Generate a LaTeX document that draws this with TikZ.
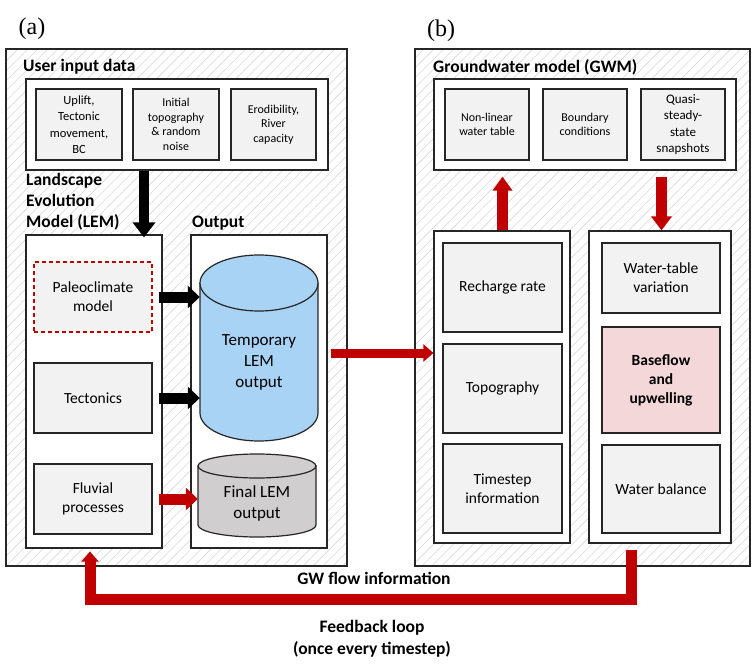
\documentclass[tikz,border=0pt]{standalone}
\usepackage{fontspec}
\setmainfont{Carlito}
\newfontfamily\panelfont{Liberation Serif}
\usetikzlibrary{arrows.meta,patterns.meta}

\definecolor{edge}{HTML}{262626}
\definecolor{boxgray}{HTML}{F2F2F2}
\definecolor{hatch}{HTML}{D9D9D9}
\definecolor{darkred}{HTML}{C00000}
\definecolor{tempblue}{HTML}{A9D3F5}
\definecolor{finalgray}{HTML}{D0CECE}
\definecolor{rosy}{HTML}{F4D7D8}

\newcommand{\fsz}[2]{\fontsize{#1}{#2}\selectfont}

\begin{document}
\begin{tikzpicture}[x=1pt,y=-1pt,
  outer/.style={draw=edge, line width=1.2pt, preaction={fill=white},
    pattern={Lines[angle=45,distance=7pt,line width=0.6pt]}, pattern color=hatch,
    inner sep=0pt},
  panel/.style={draw=edge, fill=white, line width=1.2pt, inner sep=0pt},
  box/.style={draw=edge, fill=boxgray, line width=1.1pt, align=center, inner sep=1pt},
  small/.style={font=\fsz{12}{14.5}},
  mid/.style={font=\fsz{15.5}{19}},
  title/.style={font=\bfseries\fsz{17.5}{21}, align=left, inner sep=0pt},
  fat/.style n args={4}{draw=#1, line width=#2,
    -{Triangle[width=#3,length=#4]}},
  cyl/.style={draw=edge, line width=1.2pt},
]
\useasboundingbox (0,0) rectangle (752,671);

% ---------- panel frames ----------
\node[outer, minimum width=341pt, minimum height=517pt] (lemframe) at (176.5,307.5) {};
\node[outer, minimum width=335pt, minimum height=517pt] (gwmframe) at (582.5,307.5) {};

\node[font=\panelfont\fsz{24}{28}] (tagA) at (32,29) {(a)};
\node[font=\panelfont\fsz{24}{28}] (tagB) at (441,31) {(b)};

% ---------- (a) landscape evolution model ----------
\node[title, anchor=west] (userlbl) at (23,67) {User input data};
\node[panel, minimum width=302pt, minimum height=91pt] (input) at (177,124.5) {};
\node[box, small, font=\fsz{12.5}{16.5}, minimum width=86pt, minimum height=71pt] (uplift) at (79,124.5)
  {Uplift,\\Tectonic\\movement,\\BC};
\node[box, small, minimum width=86pt, minimum height=71pt] (inittopo) at (176,124.5)
  {Initial\\topography\\\&~random\\noise};
\node[box, small, minimum width=85pt, minimum height=71pt] (erod) at (273.5,124.5)
  {Erodibility,\\River\\capacity};

\node[title, anchor=west] (lemlbl) at (26,202) {Landscape\\Evolution\\Model (LEM)};
\node[title, anchor=west] (outlbl) at (192,223) {Output};

\node[panel, minimum width=136pt, minimum height=313pt] (lem) at (94,391.5) {};
\node[panel, minimum width=136pt, minimum height=313pt] (outbox) at (259,391.5) {};

\node[box, mid, draw=darkred, dash pattern=on 4pt off 3pt, minimum width=118pt, minimum height=70pt]
  (paleo) at (93,297) {Paleoclimate\\model};
\node[box, mid, minimum width=118pt, minimum height=70pt] (tecto) at (93,398) {Tectonics};
\node[box, mid, minimum width=118pt, minimum height=70pt] (fluvial) at (93,499) {Fluvial\\processes};

% temporary output store
\path[cyl, fill=tempblue]
  (200,283) -- (200,413) arc[start angle=180, end angle=360, x radius=59pt, y radius=28pt]
  -- (318,283) -- cycle;
\draw[cyl, fill=tempblue] (259,283) ellipse [x radius=59pt, y radius=28pt];
\node[font=\fsz{17}{21}, align=center, minimum width=118pt] (temp) at (259,362)
  {Temporary\\LEM\\output};

% final output store
\path[cyl, fill=finalgray]
  (198,466) -- (198,525) arc[start angle=180, end angle=360, x radius=59pt, y radius=12pt]
  -- (316,466) -- cycle;
\draw[cyl, fill=finalgray] (257,466) ellipse [x radius=59pt, y radius=12pt];
\node[font=\fsz{17}{21}, align=center, minimum width=118pt] (final) at (257,503)
  {Final LEM\\output};

% ---------- (b) groundwater model ----------
\node[title, anchor=west] (gwmlbl) at (433,67) {Groundwater model (GWM)};
\node[panel, minimum width=302pt, minimum height=91pt] (gwminput) at (585,124.5) {};
\node[box, small, minimum width=84pt, minimum height=71pt] (nonlin) at (487,124.5)
  {Non-linear\\water table};
\node[box, small, minimum width=84pt, minimum height=71pt] (bc) at (585,124.5)
  {Boundary\\conditions};
\node[box, small, font=\fsz{13}{16.5}, minimum width=84pt, minimum height=71pt] (quasi) at (683,124.5)
  {Quasi-\\steady-\\state\\snapshots};

\node[panel, minimum width=136pt, minimum height=312pt] (leftcol) at (502,387) {};
\node[panel, minimum width=142pt, minimum height=312pt] (rightcol) at (660,387) {};

\node[box, mid, minimum width=119pt, minimum height=89pt] (recharge) at (502.5,287.5) {Recharge rate};
\node[box, mid, minimum width=119pt, minimum height=89pt] (topo) at (502.5,388.5) {Topography};
\node[box, mid, minimum width=119pt, minimum height=89pt] (tstep) at (502.5,488.5) {Timestep\\information};

\node[box, mid, minimum width=118pt, minimum height=70pt] (wtvar) at (661,278) {Water-table\\variation};
\node[box, mid, font=\bfseries\fsz{15.5}{19}, fill=rosy, minimum width=118pt, minimum height=106pt]
  (baseflow) at (661,380) {Baseflow\\and\\upwelling};
\node[box, mid, minimum width=118pt, minimum height=88pt] (wbal) at (661,489) {Water balance};

% ---------- connectors ----------
\draw[fat={black}{10pt}{22pt}{15pt}] ([xshift=-33pt]input.south) -- ([xshift=50pt,yshift=-3pt]lem.north);
\draw[fat={black}{11pt}{22pt}{12pt}] ([xshift=6pt]paleo.east) -- (paleo.east -| temp.west);
\draw[fat={black}{11pt}{22pt}{12pt}] ([xshift=6pt]tecto.east) -- (tecto.east -| temp.west);
\draw[fat={darkred}{11pt}{22pt}{12pt}] ([xshift=6pt]fluvial.east) -- (fluvial.east -| final.west);

\draw[fat={darkred}{9pt}{17pt}{10pt}] ([xshift=3pt,yshift=38.5pt]outbox.east) -- ([yshift=34pt]leftcol.west);

\draw[fat={darkred}{11pt}{19pt}{14pt}] ([xshift=0.5pt]leftcol.north) -- ([xshift=-82.5pt,yshift=-6pt]gwminput.south);
\draw[fat={darkred}{11pt}{20pt}{14pt}] ([xshift=76.5pt,yshift=-6pt]gwminput.south) -- ([xshift=1.5pt]rightcol.north);

\draw[fat={darkred}{11pt}{17pt}{10pt}, line join=miter]
  ([xshift=-29pt,yshift=-6pt]rightcol.south) -- ++(0,50) -| ([xshift=-4pt,yshift=-3pt]lem.south);

\node[font=\bfseries\fsz{17.5}{21}] (gwflow) at (374,578) {GW flow information};
\node[font=\bfseries\fsz{17.5}{22}, align=center] (feedback) at (372,639) {Feedback loop\\(once every timestep)};

\end{tikzpicture}
\end{document}
